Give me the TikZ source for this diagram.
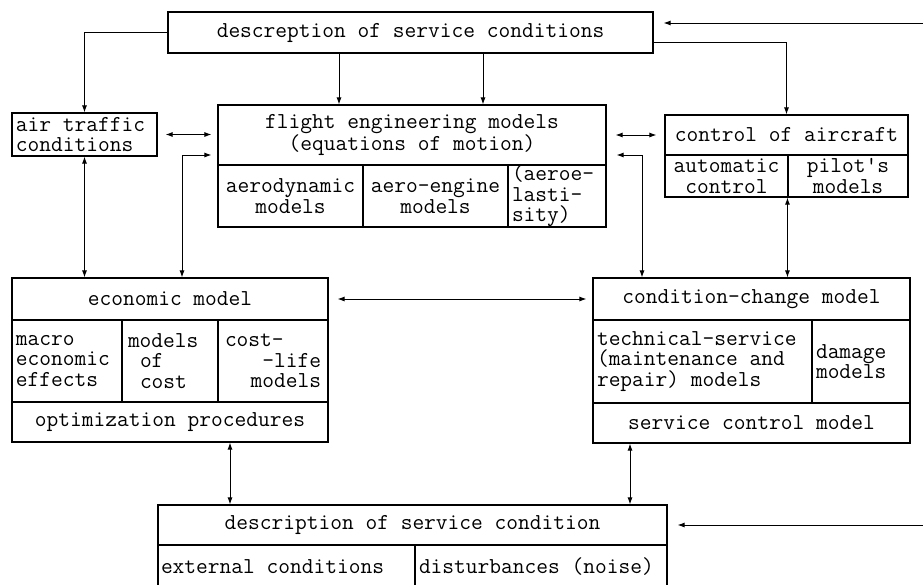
\documentclass[tikz,border=0pt]{standalone}
\usepackage{fontspec}
\usetikzlibrary{arrows.meta}

% one rectangular cell of a block: [options]{name}{x1}{y1}{x2}{y2}{text}
\newcommand\cellbox[7][]{%
  \node[cell,minimum width={(#5)-(#3)},minimum height={(#6)-(#4)},#1]
    (#2) at ({((#3)+(#5))/2},{((#4)+(#6))/2}) {\spaceskip=0pt\xspaceskip=0pt\relax #7};}
\newcommand\pushright{\hspace*{0pt plus 1filll}}

\begin{document}
\begin{tikzpicture}[x=1pt,y=-1pt,
  cell/.style={draw,line width=1.1pt,inner sep=0pt,align=center,
    font=\ttfamily\fontsize{22.8}{20.5}\selectfont\addfontfeatures{FakeBold=1.2}},
  link/.style={line width=1pt},
  >={Latex[length=7pt,width=5pt]}]

\clip (0,0) rectangle (923,584);
\fill[white] (0,0) rectangle (923,584);

% ---- blocks ----
\cellbox{top}{168}{12}{653}{53}{descreption of service conditions}

\cellbox[align=left,text width=137pt]{air}{12}{113}{157}{156}{air traffic\\conditions}

\cellbox{flighthead}{218}{105}{606}{165}{flight engineering models\\(equations of motion)}
\cellbox{aero}{218}{165}{363}{227}{aerodynamic\\models}
\cellbox{engine}{363}{165}{508}{227}{aero-engine\\models}
\cellbox[align=left,text width=90pt]{elast}{508}{165}{606}{227}{(aeroe-\\lasti-\\sity)}

\cellbox{ctrlhead}{665}{115}{908}{155}{control of aircraft}
\cellbox{auto}{665}{155}{788}{197}{automatic\\control}
\cellbox{pilot}{788}{155}{908}{197}{pilot's\\models}

\cellbox{econhead}{12}{278}{328}{320}{economic model}
\cellbox[align=left,text width=102pt]{macro}{12}{320}{122}{402}{macro\\economic\\effects}
\cellbox[align=left,text width=84pt]{costm}{122}{320}{218}{402}{models\\\hspace*{12pt}of\\\hspace*{12pt}cost}
\cellbox[align=left,text width=96pt]{life}{218}{320}{328}{402}{cost-\\\pushright-life\\\pushright models\pushright}
\cellbox{optim}{12}{402}{328}{442}{optimization procedures}

\cellbox{condhead}{593}{278}{910}{320}{condition-change model}
\cellbox[align=left,text width=211pt]{tech}{593}{320}{812}{403}{technical-service\\(maintenance and\\repair) models}
\cellbox[align=left,text width=90pt]{damage}{812}{320}{910}{403}{damage\\models}
\cellbox{svc}{593}{403}{910}{443}{service control model}

\cellbox{bothead}{158}{505}{667}{545}{description of service condition}
\cellbox[align=left,text width=251pt]{ext}{158}{545}{415}{588}{external conditions}
\cellbox[align=left,text width=244pt]{dist}{415}{545}{667}{588}{disturbances (noise)}

% ---- connector anchors ----
\coordinate (d1) at (339,0);
\coordinate (d2) at (483,0);
\coordinate (e1) at (182,155);
\coordinate (f1) at (642,155);
\coordinate (b1) at (230,0);
\coordinate (b2) at (630,0);
\coordinate (inA) at (923,23);
\coordinate (inB) at (923,525);

% ---- connectors ----
\draw[link,->] (top.west) -| (air.north);
\draw[link,->] (top.south -| d1) -- (flighthead.north -| d1);
\draw[link,->] (top.south -| d2) -- (flighthead.north -| d2);
\draw[link,->] ([yshift=-10pt]top.east) -| (ctrlhead.north);
\draw[link,->,shorten >=10pt] (inA) -- (top.east |- inA);

\draw[link,<->,shorten <=8pt,shorten >=6pt] (air.east) -- (flighthead.west |- air.east);
\draw[link,<->] (air.south) -- (econhead.north -| air.south);
\draw[link,<->,shorten >=6pt] (econhead.north -| e1) |- (flighthead.west |- e1);

\draw[link,<->,shorten <=9pt,shorten >=8pt] (flighthead.east |- ctrlhead.west) -- (ctrlhead.west);
\draw[link,<->,shorten >=10pt] (condhead.north -| f1) |- (flighthead.east |- f1);
\draw[link,<->] (pilot.south west) -- (condhead.north -| pilot.south west);

\draw[link,<->,shorten <=9pt,shorten >=6pt] (econhead.east) -- (condhead.west);

\draw[link,<->] (optim.south -| b1) -- (bothead.north -| b1);
\draw[link,<->] (svc.south -| b2) -- (bothead.north -| b2);
\draw[link,->,shorten >=10pt] (inB) -- (bothead.east);

\end{tikzpicture}
\end{document}
